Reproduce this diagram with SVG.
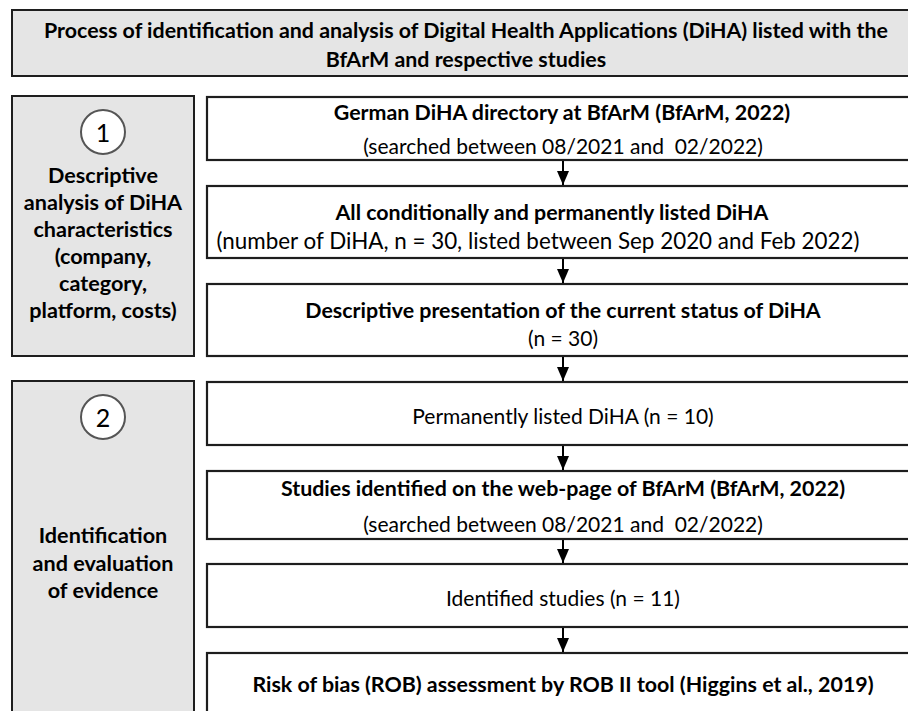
<svg xmlns="http://www.w3.org/2000/svg" width="908" height="711" viewBox="0 0 908 711">
<defs>
<style>
.gbox{fill:#e5e5e5;stroke:#1e1e1e;stroke-width:2}
.wbox{fill:#ffffff;stroke:#1e1e1e;stroke-width:2.2}
.circ{fill:#ffffff;stroke:#555555;stroke-width:2}
text{font-family:Lato,"Liberation Sans",sans-serif;fill:#000;text-anchor:middle;dominant-baseline:central}
.b{font-weight:bold;font-size:21.4px}
.r{font-size:21px}
.w{font-size:22.4px}
.l{font-weight:bold;font-size:21.6px}
.t{font-weight:bold;font-size:21.4px}
.num{font-size:25px}
.conn{stroke:#000;stroke-width:2;fill:none}
</style>
<marker id="ah" markerWidth="14" markerHeight="12" refX="14" refY="6" orient="auto" markerUnits="userSpaceOnUse">
<path d="M0,0 L14,6 L0,12 Z" fill="#000"/>
</marker>
</defs>
<rect width="908" height="711" fill="#ffffff"/>

<g id="title">
<rect class="gbox" x="12" y="10" width="908" height="66"/>
<text class="t" x="466" y="30">Process of identification and analysis of Digital Health Applications (DiHA) listed with the</text>
<text class="t" x="466" y="59">BfArM and respective studies</text>
</g>

<g id="section1">
<rect class="gbox" x="12" y="96" width="182" height="260"/>
<circle class="circ" cx="103" cy="132" r="22"/>
<text class="num" x="103" y="132">1</text>
<text class="l" x="103" y="175">Descriptive</text>
<text class="l" x="103" y="202">analysis of DiHA</text>
<text class="l" x="103" y="229">characteristics</text>
<text class="l" x="103" y="256">(company,</text>
<text class="l" x="103" y="283">category,</text>
<text class="l" x="103" y="310">platform, costs)</text>
</g>

<g id="section2">
<rect class="gbox" x="12" y="381" width="182" height="340"/>
<circle class="circ" cx="103" cy="417" r="22"/>
<text class="num" x="103" y="417">2</text>
<text class="l" x="103" y="535">Identification</text>
<text class="l" x="103" y="563">and evaluation</text>
<text class="l" x="103" y="590">of evidence</text>
</g>

<g id="box1">
<rect class="wbox" x="207" y="97" width="713" height="63"/>
<text class="b" x="562" y="112">German DiHA directory at BfArM (BfArM, 2022)</text>
<text class="r" x="563" y="145">(searched between 08/2021 and&#160; 02/2022)</text>
</g>
<g id="box2">
<rect class="wbox" x="207" y="186" width="713" height="72"/>
<text class="b" x="552" y="212">All conditionally and permanently listed DiHA</text>
<text class="w" x="538" y="240">(number of DiHA, n = 30, listed between Sep 2020 and Feb 2022)</text>
</g>
<g id="box3">
<rect class="wbox" x="207" y="284" width="713" height="72"/>
<text class="b" x="563" y="310">Descriptive presentation of the current status of DiHA</text>
<text class="r" x="563" y="337">(n = 30)</text>
</g>
<g id="box4">
<rect class="wbox" x="207" y="382" width="713" height="63"/>
<text class="r" x="563" y="415">Permanently listed DiHA (n = 10)</text>
</g>
<g id="box5">
<rect class="wbox" x="207" y="471" width="713" height="68"/>
<text class="b" x="563" y="488">Studies identified on the web-page of BfArM (BfArM, 2022)</text>
<text class="r" x="563" y="523">(searched between 08/2021 and&#160; 02/2022)</text>
</g>
<g id="box6">
<rect class="wbox" x="207" y="564" width="713" height="63"/>
<text class="r" x="563" y="597">Identified studies (n = 11)</text>
</g>
<g id="box7">
<rect class="wbox" x="207" y="653" width="713" height="80"/>
<text class="b" x="563" y="684">Risk of bias (ROB) assessment by ROB II tool (Higgins et al., 2019)</text>
</g>

<g id="connectors">
<line class="conn" x1="563" y1="161" x2="563" y2="185" marker-end="url(#ah)"/>
<line class="conn" x1="563" y1="259" x2="563" y2="283" marker-end="url(#ah)"/>
<line class="conn" x1="563" y1="357" x2="563" y2="381" marker-end="url(#ah)"/>
<line class="conn" x1="563" y1="446" x2="563" y2="470" marker-end="url(#ah)"/>
<line class="conn" x1="563" y1="540" x2="563" y2="563" marker-end="url(#ah)"/>
<line class="conn" x1="563" y1="628" x2="563" y2="652" marker-end="url(#ah)"/>
</g>
</svg>
